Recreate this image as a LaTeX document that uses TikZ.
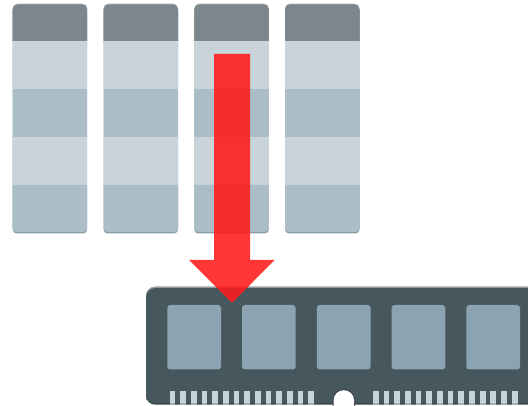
\documentclass[tikz,border=0pt]{standalone}
\definecolor{headc}{HTML}{7B878C}
\definecolor{lightc}{HTML}{C8D4DA}
\definecolor{darkc}{HTML}{ABBDC7}
\definecolor{edgec}{HTML}{8A9CA6}
\definecolor{boardc}{HTML}{47575E}
\definecolor{boardt}{HTML}{9DA6A9}
\definecolor{boardd}{HTML}{37454B}
\definecolor{chipc}{HTML}{8CA4B2}
\definecolor{pinc}{HTML}{C8D4DA}
\definecolor{redc}{HTML}{FF1A1A}
\tikzset{
  lightband/.style={fill=lightc},
  darkband/.style={fill=darkc},
  chipbox/.style={fill=chipc,rounded corners=3},
  pinbar/.style={fill=pinc},
  pinshade/.style={fill=pinc!75!boardd},
}
\newcommand{\stack}[1]{%
  \begin{scope}[xshift=#1]
    \fill[edgec] (0,6) [rounded corners=4] -- (0,233.5) -- (74.5,233.5) -- (74.5,6) -- cycle;
    \fill[boardt] (0,41) [rounded corners=5] -- (0,3.6) -- (74.5,3.6) [sharp corners] -- (74.5,41) -- cycle;
    \fill[headc] (0,41) [rounded corners=5] -- (0,4.6) -- (74.5,4.6) [sharp corners] -- (74.5,41) -- cycle;
    \fill[lightband] (0,41) rectangle (74.5,89);
    \fill[darkband] (0,89) rectangle (74.5,137);
    \fill[lightband] (0,137) rectangle (74.5,185);
    \fill[darkband] (0,232) [rounded corners=4] -- (74.5,232) [sharp corners] -- (74.5,185) -- (0,185) [rounded corners=4] -- cycle;
  \end{scope}}
\begin{document}
\begin{tikzpicture}[x=1pt,y=-1pt]
\useasboundingbox (0,0) rectangle (528,406);
\stack{12.7pt}
\stack{103.5pt}
\stack{194.3pt}
\stack{285pt}
% board
\fill[boardt] (146,400) [rounded corners=9] -- (146,286.5) -- (560,286.5) [sharp corners] -- (560,400) -- cycle;
\fill[boardd] (146,390) [rounded corners=9] -- (146,404.6) -- (560,404.6) [sharp corners] -- (560,390) -- cycle;
\fill[boardc] (146,340) [rounded corners=9] -- (146,288) -- (560,288) [sharp corners] -- (560,403.2) [rounded corners=9] -- (146,403.2) -- cycle;
% chips
\foreach \cx in {167.3,242,316.8,391.6,466.3}
  \fill[chipbox] (\cx,305) rectangle ++(53.7,64.5);
% pins
\foreach \i in {0,...,13} {
  \fill[pinbar] ({169.5+10.67*\i},391) rectangle ++(5.8,12.2);
  \fill[pinshade] ({169.5+10.67*\i},403.2) rectangle ++(5.8,1.4);
  \fill[pinbar] ({373+10.67*\i},391) rectangle ++(5.8,12.2);
  \fill[pinshade] ({373+10.67*\i},403.2) rectangle ++(5.8,1.4);
}
% notch
\fill[boardd] (332.6,406) -- (332.6,400.5) arc[start angle=180,end angle=360,radius=11.2] -- (355,406) -- cycle;
\fill[white] (333.5,406) -- (333.5,400.5) arc[start angle=180,end angle=360,radius=10.3] -- (354.1,406) -- cycle;
% arrow
\fill[redc,opacity=.88] (214,54) -- (250,54) -- (250,260) -- (274.5,260) -- (232,303) -- (189,260) -- (214,260) -- cycle;
\end{tikzpicture}
\end{document}
